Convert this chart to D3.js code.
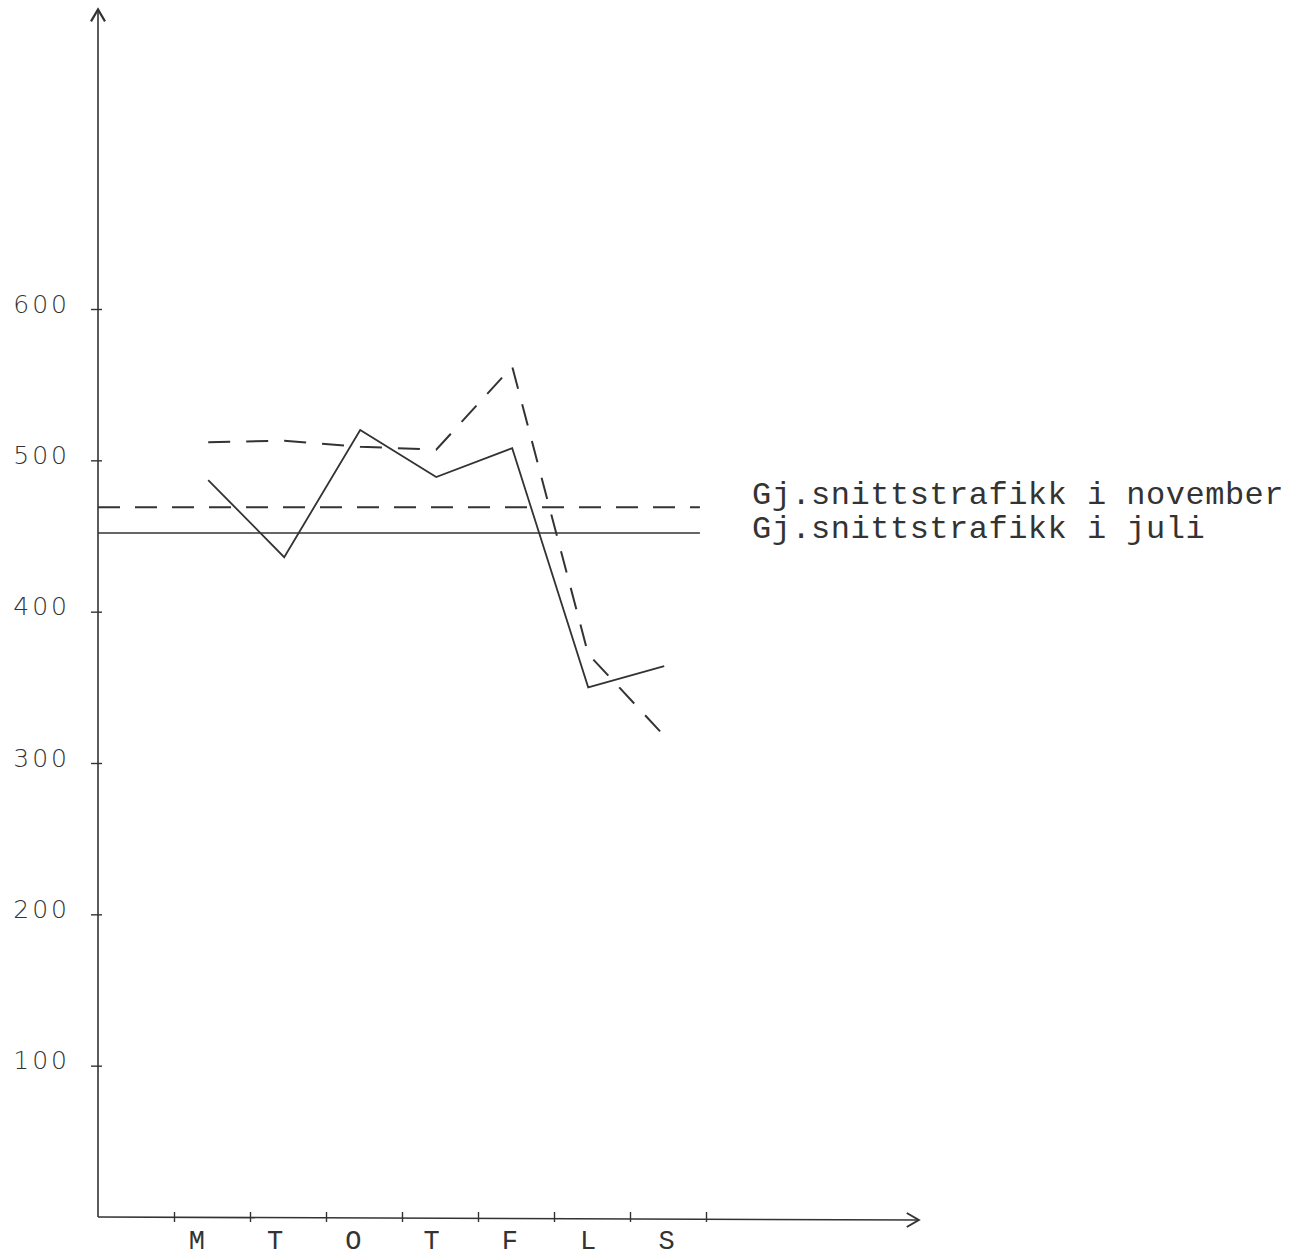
<!DOCTYPE html>
<html>
<head>
<meta charset="utf-8">
<script src="https://cdn.jsdelivr.net/npm/d3@7"></script>
<style>
  body { margin: 0; background: #fff; }
  svg { display: block; }
  .tick text { font-family: "DejaVu Sans", sans-serif; font-weight: 200; font-size: 25px; fill: #333; letter-spacing: 3px; }
  .typed { font-family: "Liberation Mono", "DejaVu Sans Mono", monospace; fill: #333; }
</style>
</head>
<body>
<script>
// weekday traffic
var days = ["M", "T", "O", "T", "F", "L", "S"];
var juli = [487, 436, 520, 489, 508, 350, 364];
var november = [512, 513, 509, 507, 562, 372, 318];
var yTicks = [100, 200, 300, 400, 500, 600];
var avgJuli = 452;
var avgNovember = 469;
var legendLabels = ["Gj.snittstrafikk i november", "Gj.snittstrafikk i juli"];

var w = 1295;
var h = 1258;
var ink = "#333";

var svg = d3.select("body")
  .append("svg")
  .attr("width", w)
  .attr("height", h);

// one x unit = one day slot
var xScale = d3.scaleLinear()
  .domain([0, 10.8])
  .range([98, 918.8]);

var yScale = d3.scaleLinear()
  .domain([0, 600])
  .range([1217, 309]);

var x0 = xScale(0), y0 = yScale(0);

// axis lines with arrow heads
svg.append("line")
  .attr("x1", x0).attr("y1", y0)
  .attr("x2", x0).attr("y2", yScale(798))
  .attr("stroke", ink).attr("stroke-width", 1.6);
svg.append("path")
  .attr("d", "M" + (x0 - 7) + "," + (yScale(798) + 12) + "L" + x0 + "," + yScale(798) + "L" + (x0 + 7) + "," + (yScale(798) + 12))
  .attr("fill", "none").attr("stroke", ink).attr("stroke-width", 2.2);

svg.append("line")
  .attr("x1", x0).attr("y1", y0)
  .attr("x2", xScale(10.8)).attr("y2", y0 + 3)
  .attr("stroke", ink).attr("stroke-width", 1.6);
svg.append("path")
  .attr("d", "M" + (xScale(10.8) - 12) + "," + (y0 - 4) + "L" + xScale(10.8) + "," + (y0 + 3) + "L" + (xScale(10.8) - 12) + "," + (y0 + 10))
  .attr("fill", "none").attr("stroke", ink).attr("stroke-width", 2);

var yAxis = d3.axisLeft(yScale)
  .tickValues(yTicks)
  .tickSize(7)
  .tickPadding(21)
  .tickFormat(d3.format("d"));

var gy = svg.append("g")
  .attr("transform", "translate(" + x0 + ",0)")
  .call(yAxis);
gy.select(".domain").remove();
gy.selectAll(".tick line").attr("x1", 4).attr("stroke", ink).attr("stroke-width", 1.4);
gy.selectAll(".tick text").attr("y", -5);

var xAxis = d3.axisBottom(xScale)
  .tickValues(d3.range(1, 9))
  .tickSize(5)
  .tickFormat("");

var gx = svg.append("g")
  .attr("transform", "translate(0," + y0 + ")")
  .call(xAxis);
gx.select(".domain").remove();
gx.selectAll(".tick line").attr("y1", -5).attr("stroke", ink).attr("stroke-width", 1.4);

// typed day letters sit a bit wider apart than the drawn ticks
svg.selectAll(".day")
  .data(days)
  .enter().append("text")
  .attr("class", "typed day")
  .attr("x", function(d, i) { return xScale(i * 1.03 + 1.3); })
  .attr("y", 1249)
  .attr("text-anchor", "middle")
  .attr("font-size", 27)
  .text(function(d) { return d; });

// average lines
svg.append("line")
  .attr("x1", x0).attr("x2", xScale(7.92))
  .attr("y1", yScale(avgNovember)).attr("y2", yScale(avgNovember))
  .attr("stroke", ink).attr("stroke-width", 1.8)
  .attr("stroke-dasharray", "22 15");

svg.append("line")
  .attr("x1", x0).attr("x2", xScale(7.92))
  .attr("y1", yScale(avgJuli)).attr("y2", yScale(avgJuli))
  .attr("stroke", ink).attr("stroke-width", 1.6);

var line = d3.line()
  .x(function(d, i) { return xScale(i + 1.45); })
  .y(function(d) { return yScale(d); });

svg.append("path")
  .datum(november)
  .attr("d", line)
  .attr("fill", "none")
  .attr("stroke", ink).attr("stroke-width", 2)
  .attr("stroke-dasharray", "22 16");

svg.append("path")
  .datum(juli)
  .attr("d", line)
  .attr("fill", "none")
  .attr("stroke", ink).attr("stroke-width", 1.8);

svg.selectAll(".legend")
  .data(legendLabels)
  .enter().append("text")
  .attr("class", "typed legend")
  .attr("x", 752)
  .attr("y", function(d, i) { return 504 + i * 34; })
  .attr("font-size", 32)
  .attr("letter-spacing", 0.5)
  .text(function(d) { return d; });
</script>
</body>
</html>
